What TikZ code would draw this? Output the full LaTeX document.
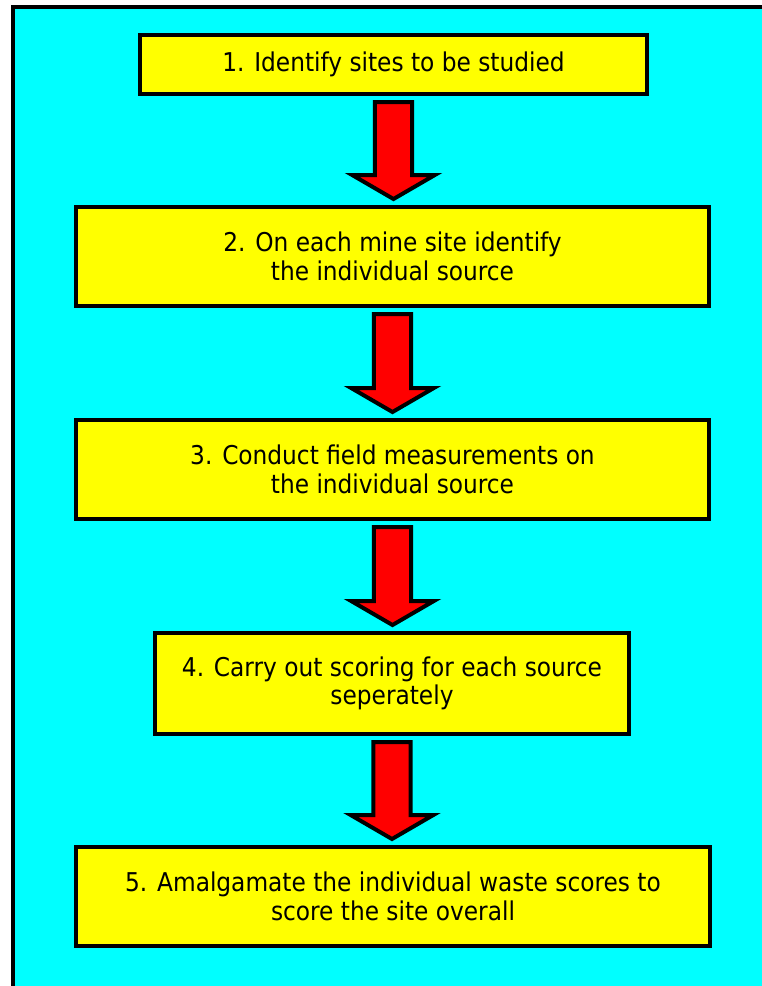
\documentclass[tikz,border=0pt]{standalone}
\usepackage{fontspec}
\usepackage{tikz}
\usetikzlibrary{calc}
\usetikzlibrary{positioning}
\newfontfamily\boxfont{DejaVu Sans Condensed}
\definecolor{skycyan}{rgb}{0,1,1}
\definecolor{boxyellow}{rgb}{1,1,0}
\definecolor{arrowred}{rgb}{1,0,0}

\tikzset{
  stagebox/.style={draw=black, line width=3pt, fill=boxyellow, align=center,
    inner sep=0pt, font=\boxfont\fontsize{19.4}{21.5}\selectfont},
  redarrow/.style={draw=black, line width=3pt, fill=arrowred, line join=miter}
}

% block arrow from the bottom of one box to the top of the next
\newcommand\stepdown[2]{%
  \draw[redarrow] let \p1=(#1.south), \p2=(#2.north) in
    (\x1-14pt, \y1-4.5pt) -- (\x1+14pt, \y1-4.5pt)
    -- (\x1+14pt, \y2+22.5pt) -- (\x1+31pt, \y2+22.5pt)
    -- (\x1, \y2+4.5pt) -- (\x1-31pt, \y2+22.5pt)
    -- (\x1-14pt, \y2+22.5pt) -- cycle;}

\begin{document}
\begin{tikzpicture}[x=0.75pt, y=-0.75pt]
  \useasboundingbox (0,0) rectangle (762,986);
  \clip (0,0) rectangle (762,986);
  \filldraw[fill=skycyan, line width=3pt] (13,7) rectangle (800,1010);

  % the five stages
  \node[stagebox, minimum width=380.25pt, minimum height=44.25pt] (site)
    at (393.5,64.5) {1. Identify sites to be studied};
  \node[stagebox, minimum width=474.75pt, minimum height=74.25pt] (source)
    at (392.5,256.5) {2. On each mine site identify\\the individual source};
  \node[stagebox, minimum width=474.75pt, minimum height=74.25pt] (field)
    at (392.5,469.5) {3. Conduct field measurements on\\the individual source};
  \node[stagebox, minimum width=355.5pt, minimum height=75.75pt] (scoring)
    at (392,683.5) {4. Carry out scoring for each source\\seperately};
  \node[stagebox, minimum width=475.5pt, minimum height=74.25pt] (overall)
    at (393,896.5) {5. Amalgamate the individual waste scores to\\score the site overall};

  \stepdown{site}{source}
  \stepdown{source}{field}
  \stepdown{field}{scoring}
  \stepdown{scoring}{overall}
\end{tikzpicture}
\end{document}
